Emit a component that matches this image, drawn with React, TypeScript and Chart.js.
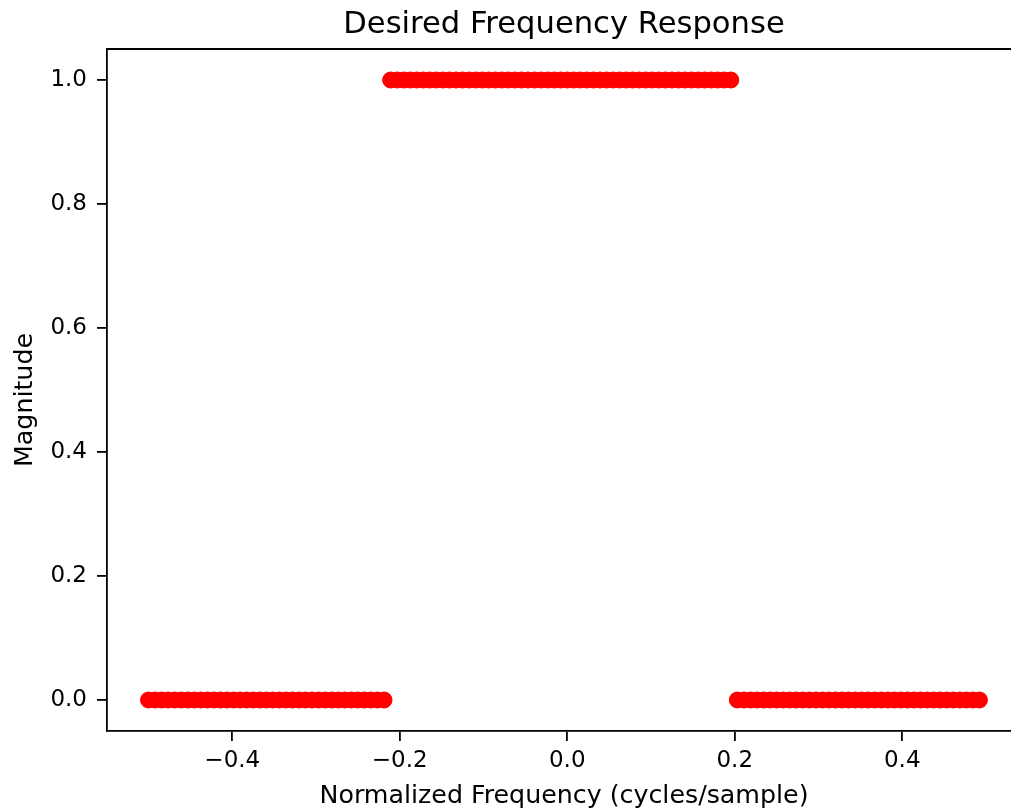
import React, { useEffect, useRef } from "react";
import { Chart, registerables } from "chart.js";

Chart.register(...registerables);

const chartTitle = "Desired Frequency Response";
const xAxisTitle = "Normalized Frequency (cycles/sample)";
const yAxisTitle = "Magnitude";

// Normalized frequency bins (cycles/sample)
const frequency: number[] = [
  -0.5, -0.4922, -0.4844, -0.4766, -0.4688, -0.4609, -0.4531, -0.4453,
  -0.4375, -0.4297, -0.4219, -0.4141, -0.4063, -0.3984, -0.3906, -0.3828,
  -0.375, -0.3672, -0.3594, -0.3516, -0.3438, -0.3359, -0.3281, -0.3203,
  -0.3125, -0.3047, -0.2969, -0.2891, -0.2813, -0.2734, -0.2656, -0.2578,
  -0.25, -0.2422, -0.2344, -0.2266, -0.2188,
  -0.2109, -0.2031, -0.1953, -0.1875, -0.1797, -0.1719, -0.1641, -0.1563,
  -0.1484, -0.1406, -0.1328, -0.125, -0.1172, -0.1094, -0.1016, -0.0938,
  -0.0859, -0.0781, -0.0703, -0.0625, -0.0547, -0.0469, -0.0391, -0.0313,
  -0.0234, -0.0156, -0.0078, 0, 0.0078, 0.0156, 0.0234, 0.0313,
  0.0391, 0.0469, 0.0547, 0.0625, 0.0703, 0.0781, 0.0859, 0.0938,
  0.1016, 0.1094, 0.1172, 0.125, 0.1328, 0.1406, 0.1484, 0.1563,
  0.1641, 0.1719, 0.1797, 0.1875, 0.1953,
  0.2031, 0.2109, 0.2188, 0.2266, 0.2344, 0.2422, 0.25, 0.2578,
  0.2656, 0.2734, 0.2813, 0.2891, 0.2969, 0.3047, 0.3125, 0.3203,
  0.3281, 0.3359, 0.3438, 0.3516, 0.3594, 0.3672, 0.375, 0.3828,
  0.3906, 0.3984, 0.4063, 0.4141, 0.4219, 0.4297, 0.4375, 0.4453,
  0.4531, 0.4609, 0.4688, 0.4766, 0.4844, 0.4922,
];

// Desired magnitude at each bin
const magnitude: number[] = [
  0, 0, 0, 0, 0, 0, 0, 0, 0, 0, 0, 0, 0, 0, 0, 0,
  0, 0, 0, 0, 0, 0, 0, 0, 0, 0, 0, 0, 0, 0, 0, 0,
  0, 0, 0, 0, 0,
  1, 1, 1, 1, 1, 1, 1, 1, 1, 1, 1, 1, 1, 1, 1, 1,
  1, 1, 1, 1, 1, 1, 1, 1, 1, 1, 1, 1, 1, 1, 1, 1,
  1, 1, 1, 1, 1, 1, 1, 1, 1, 1, 1, 1, 1, 1, 1, 1,
  1, 1, 1, 1, 1,
  0, 0, 0, 0, 0, 0, 0, 0, 0, 0, 0, 0, 0, 0, 0, 0,
  0, 0, 0, 0, 0, 0, 0, 0, 0, 0, 0, 0, 0, 0, 0, 0,
  0, 0, 0, 0, 0, 0,
];

const xTicks = [-0.4, -0.2, 0.0, 0.2, 0.4];
const yTicks = [0.0, 0.2, 0.4, 0.6, 0.8, 1.0];

const FONT = "'DejaVu Sans', sans-serif";

const fmt = (v: number) => v.toFixed(1).replace("-", "\u2212");

export default function App() {
  const ref = useRef<HTMLCanvasElement | null>(null);

  useEffect(() => {
    document.body.style.margin = "0";
    const canvas = ref.current;
    if (!canvas) return;

    const framePlugin = {
      id: "frameAndTitles",
      afterDraw(chart: any) {
        const { ctx, chartArea } = chart;
        ctx.save();
        // top and right spines (right one falls just outside the picture)
        ctx.strokeStyle = "#000";
        ctx.lineWidth = 1.8;
        ctx.beginPath();
        ctx.moveTo(chartArea.left, chartArea.top);
        ctx.lineTo(chartArea.right, chartArea.top);
        ctx.lineTo(chartArea.right, chartArea.bottom);
        ctx.stroke();

        const cx = (chartArea.left + chartArea.right) / 2;
        ctx.fillStyle = "#000";
        ctx.textAlign = "center";
        ctx.textBaseline = "alphabetic";

        // chart title
        ctx.font = `30.6px ${FONT}`;
        ctx.fillText(chartTitle, cx, 33);

        // x axis title
        ctx.font = `25.3px ${FONT}`;
        ctx.fillText(xAxisTitle, cx, 803);

        // y axis title (rotated)
        ctx.translate(32, 400);
        ctx.rotate(-Math.PI / 2);
        ctx.fillText(yAxisTitle, 0, 0);
        ctx.restore();
      },
    };

    const chart = new Chart(canvas, {
      type: "scatter",
      data: {
        datasets: [
          {
            data: frequency.map((f, i) => ({ x: f, y: magnitude[i] })),
            backgroundColor: "#ff0000",
            borderColor: "#ff0000",
            borderWidth: 1,
            pointRadius: 8,
            pointHoverRadius: 8,
          },
        ],
      },
      options: {
        responsive: false,
        animation: false,
        devicePixelRatio: 1,
        layout: { autoPadding: false, padding: { top: 49, right: 3, left: 0, bottom: 0 } },
        plugins: {
          legend: { display: false },
          tooltip: { enabled: false },
          title: { display: false },
        },
        scales: {
          x: {
            type: "linear",
            min: -0.5496,
            max: 0.5418,
            afterFit: (s: any) => {
              s.height = 79;
              s.paddingLeft = 0;
              s.paddingRight = 0;
            },
            afterBuildTicks: (s: any) => {
              s.ticks = xTicks.map((v) => ({ value: v }));
            },
            ticks: {
              autoSkip: false,
              maxRotation: 0,
              padding: 6,
              color: "#000",
              font: { family: FONT, size: 23 },
              callback: (v: any) => fmt(Number(v)),
            },
            grid: {
              drawOnChartArea: false,
              drawTicks: true,
              tickLength: 10,
              color: "#000",
              lineWidth: 1.8,
            },
            border: { display: true, color: "#000", width: 1.8 },
          },
          y: {
            type: "linear",
            min: -0.05,
            max: 1.05,
            afterFit: (s: any) => {
              s.width = 107;
              s.paddingTop = 0;
              s.paddingBottom = 0;
            },
            afterBuildTicks: (s: any) => {
              s.ticks = yTicks.map((v) => ({ value: v }));
            },
            ticks: {
              autoSkip: false,
              padding: 10,
              color: "#000",
              font: { family: FONT, size: 23 },
              callback: (v: any) => fmt(Number(v)),
            },
            grid: {
              drawOnChartArea: false,
              drawTicks: true,
              tickLength: 10,
              color: "#000",
              lineWidth: 1.8,
            },
            border: { display: true, color: "#000", width: 1.8 },
          },
        },
      },
      plugins: [framePlugin],
    });

    return () => chart.destroy();
  }, []);

  return (
    <div
      style={{
        position: "relative",
        width: 1011,
        height: 810,
        overflow: "hidden",
        background: "#fff",
      }}
    >
      <canvas
        ref={ref}
        width={1024}
        height={810}
        style={{ width: 1024, height: 810, display: "block" }}
      />
    </div>
  );
}
